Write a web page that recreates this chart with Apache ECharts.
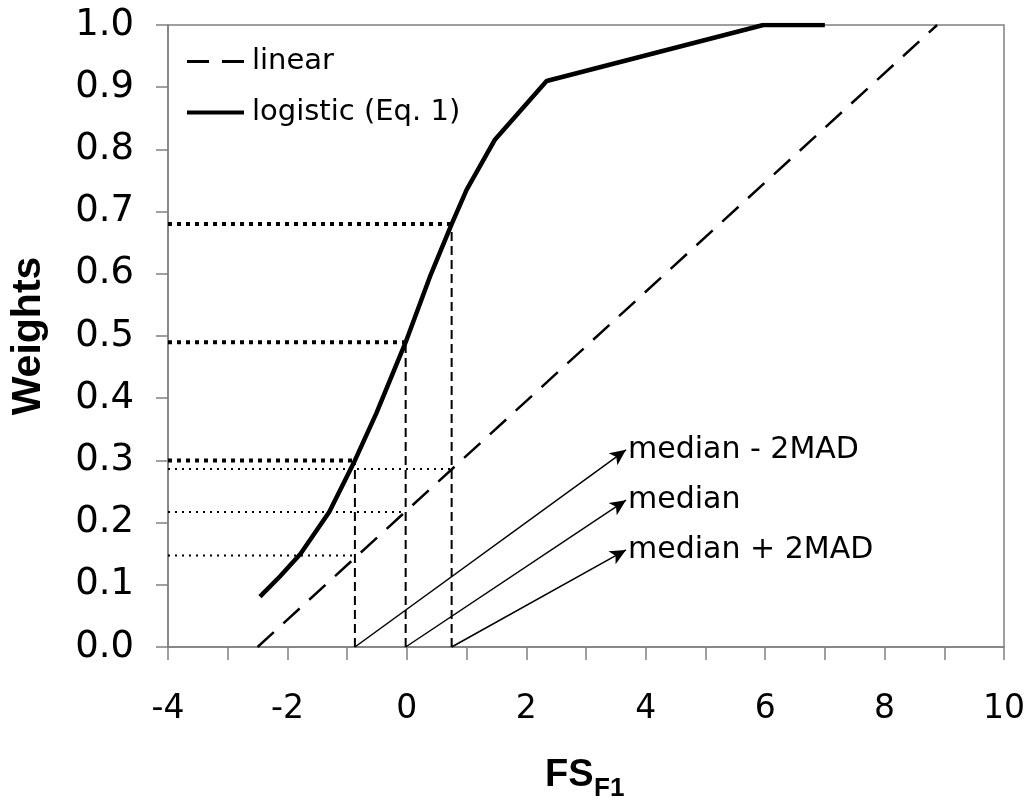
<!DOCTYPE html>
<html><head><meta charset="utf-8">
<script src="https://cdn.jsdelivr.net/npm/echarts@6/dist/echarts.min.js"></script>
<style>html,body{margin:0;padding:0;background:#fff}#c{width:1027px;height:800px}</style>
</head><body><div id="c"></div>
<script>
// ---- data ----
const seriesNames = ['linear', 'logistic (Eq. 1)'];
const linearX = [-2.5, 8.88];
const linearY = [0, 1];
const logisticX = [-2.46, -2.13, -1.78, -1.30, -0.87, -0.51, -0.02, 0.385, 0.75, 1.0, 1.47, 2.34, 5.97, 7.0];
const logisticY = [0.081, 0.113, 0.150, 0.217, 0.300, 0.376, 0.490, 0.595, 0.680, 0.735, 0.815, 0.910, 1.0, 1.0];
const markerNames = ['median - 2MAD', 'median', 'median + 2MAD'];
const markerX = [-0.87, -0.02, 0.75];
const logisticAtMarker = [0.30, 0.49, 0.68];
const linearAtMarker = [0.147, 0.217, 0.286];
const arrowTipX = [3.67, 3.67, 3.67];
const arrowTipY = [0.317, 0.236, 0.156];
const xMin = -4, xMax = 10, yMin = 0, yMax = 1;
const xTitle = 'FS', xTitleSub = 'F1', yTitle = 'Weights';

// ---- build ----
const BLACK = '#000';
const AXIS = '#808080';
const FONT = 'DejaVu Sans';
const series = [];

markerX.forEach((mx, i) => {
  series.push({
    type: 'line', silent: true, showSymbol: false, symbol: 'none', z: 2,
    data: [[xMin, logisticAtMarker[i]], [mx, logisticAtMarker[i]]],
    lineStyle: { color: BLACK, width: 4, type: [4, 5] }
  });
  series.push({
    type: 'line', silent: true, showSymbol: false, symbol: 'none', z: 2,
    data: [[xMin, linearAtMarker[i]], [mx, linearAtMarker[i]]],
    lineStyle: { color: BLACK, width: 2, type: [2, 5] }
  });
  series.push({
    type: 'line', silent: true, showSymbol: false, symbol: 'none', z: 2,
    data: [[mx, yMin], [mx, logisticAtMarker[i]]],
    lineStyle: { color: BLACK, width: 2, type: [9, 5] }
  });
});

series.push({
  name: seriesNames[0], type: 'line', symbol: 'none', showSymbol: false, z: 3,
  data: linearX.map((x, i) => [x, linearY[i]]),
  lineStyle: { color: BLACK, width: 2.5, type: [22, 13] },
  itemStyle: { color: BLACK }
});
series.push({
  name: seriesNames[1], type: 'line', symbol: 'none', showSymbol: false, z: 4,
  data: logisticX.map((x, i) => [x, logisticY[i]]),
  lineStyle: { color: BLACK, width: 4.5 },
  itemStyle: { color: BLACK }
});

series.push({
  type: 'scatter', silent: true, symbolSize: 0, z: 5,
  itemStyle: { color: BLACK, opacity: 1 },
  data: arrowTipX.map((x, i) => ({ value: [x, arrowTipY[i]], name: markerNames[i] })),
  label: {
    show: true, position: 'right', distance: 2, formatter: p => p.name,
    color: '#000', opacity: 1, fontSize: 30, fontFamily: FONT
  },
  markLine: {
    silent: true, animation: false,
    symbol: ['none', 'arrow'], symbolSize: [11, 16],
    label: { show: false },
    lineStyle: { color: BLACK, width: 1.5, type: 'solid', opacity: 1 },
    emphasis: { disabled: true },
    data: markerX.map((mx, i) => [{ coord: [mx, yMin] }, { coord: [arrowTipX[i], arrowTipY[i]] }])
  }
});

const chart = echarts.init(document.getElementById('c'), null, { renderer: 'canvas' });
chart.setOption({
  animation: false,
  backgroundColor: '#fff',
  grid: {
    left: 168, right: 23, top: 25, bottom: 153, containLabel: false, outerBoundsMode: 'none',
    show: true, borderColor: AXIS, borderWidth: 1.5, backgroundColor: 'transparent'
  },
  legend: {
    data: [
      { name: seriesNames[0], icon: 'path://M0,0H22V3H0Z M35,0H57V3H35Z' },
      { name: seriesNames[1], icon: 'path://M0,0H57V4H0Z' }
    ],
    orient: 'vertical', left: 187, top: 47,
    itemWidth: 57, itemHeight: 20, itemGap: 22, padding: 0,
    itemStyle: { color: BLACK, borderWidth: 0 },
    textStyle: { fontSize: 29, fontFamily: FONT, color: BLACK, padding: [0, 0, 0, 3] },
    selectedMode: false
  },
  xAxis: {
    type: 'value', min: xMin, max: xMax, interval: 1,
    axisLine: { show: true, onZero: false, lineStyle: { color: AXIS, width: 1.5 } },
    axisTick: { show: true, inside: false, length: 13, lineStyle: { color: AXIS, width: 1.5 } },
    axisLabel: { margin: 46, fontSize: 33, fontFamily: FONT, color: BLACK, formatter: v => (Math.round(v) % 2 === 0 ? String(Math.round(v)) : '') },
    splitLine: { show: false }
  },
  yAxis: {
    type: 'value', min: yMin, max: yMax, interval: 0.1,
    name: yTitle, nameLocation: 'middle', nameGap: 119, nameRotate: 90,
    nameTextStyle: { fontSize: 41, fontWeight: 'bold', fontFamily: 'Liberation Sans', color: BLACK },
    axisLine: { show: true, onZero: false, lineStyle: { color: AXIS, width: 1.5 } },
    axisTick: { show: true, inside: false, length: 12, lineStyle: { color: AXIS, width: 1.5 } },
    axisLabel: { margin: 34, fontSize: 37, fontFamily: FONT, color: BLACK, formatter: v => v.toFixed(1) },
    splitLine: { show: false }
  },
  graphic: [
    { type: 'text', left: 545, top: 757, style: { text: xTitle, font: 'bold 38px "Liberation Sans"', fill: BLACK } },
    { type: 'text', left: 594, top: 776, style: { text: xTitleSub, font: 'bold 26px "Liberation Sans"', fill: BLACK } }
  ],
  series: series
});
</script>
</body></html>
